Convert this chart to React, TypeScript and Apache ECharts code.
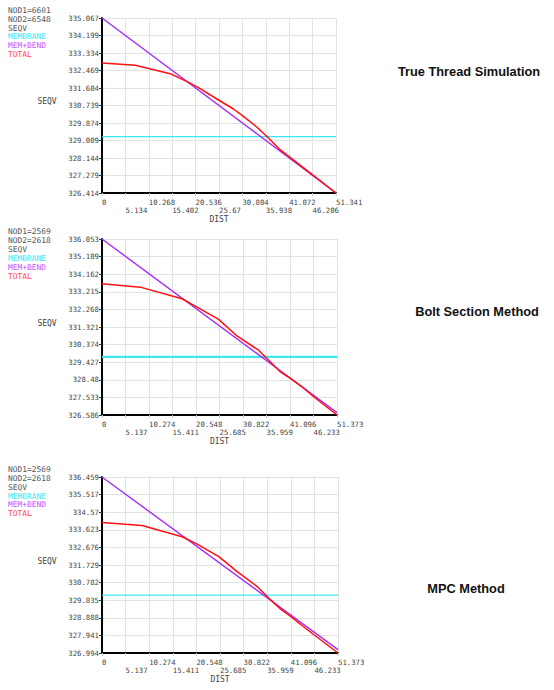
import React, { useEffect, useRef } from "react";
import * as echarts from "echarts";

const MONO = '"DejaVu Sans Mono", "Liberation Mono", monospace';

// ---------- Panel 1: True Thread Simulation ----------
const p1Nodes = ["NOD1=6601", "NOD2=6548"];
const p1XTicks = ["0", "5.134", "10.268", "15.402", "20.536", "25.67", "30.804", "35.938", "41.072", "46.206", "51.341"];
const p1YTicks = ["326.414", "327.279", "328.144", "329.009", "329.874", "330.739", "331.604", "332.469", "333.334", "334.199", "335.067"];
const p1TotalDist = [0, 7.3, 14.97, 18.99, 21.54, 25.2, 28.85, 31.04, 33.96, 36.52, 39.07, 41.26, 43.82, 46.37, 51.341];
const p1TotalSeqv = [332.842, 332.727, 332.315, 331.886, 331.573, 331.062, 330.567, 330.205, 329.677, 329.133, 328.557, 328.178, 327.733, 327.287, 326.414];
const p1Membrane = 329.199;
const p1MemBend = [335.067, 326.414];

// ---------- Panel 2: Bolt Section Method ----------
const p2Nodes = ["NOD1=2569", "NOD2=2618"];
const p2XTicks = ["0", "5.137", "10.274", "15.411", "20.548", "25.685", "30.822", "35.959", "41.096", "46.233", "51.373"];
const p2YTicks = ["326.586", "327.533", "328.48", "329.427", "330.374", "331.321", "332.268", "333.215", "334.162", "335.109", "336.053"];
const p2TotalDist = [0, 8.38, 17.49, 20.77, 25.5, 29.51, 34.25, 36.43, 38.98, 41.17, 43.72, 46.27, 51.373];
const p2TotalSeqv = [333.642, 333.463, 332.838, 332.391, 331.73, 330.837, 330.069, 329.533, 328.908, 328.551, 328.104, 327.569, 326.586];
const p2Membrane = 329.712;
const p2MemBend = [336.053, 326.711];

// ---------- Panel 3: MPC Method ----------
const p3Nodes = ["NOD1=2569", "NOD2=2618"];
const p3XTicks = ["0", "5.137", "10.274", "15.411", "20.548", "25.685", "30.822", "35.959", "41.096", "46.233", "51.373"];
const p3YTicks = ["326.994", "327.941", "328.888", "329.835", "330.782", "331.729", "332.676", "333.623", "334.57", "335.517", "336.459"];
const p3TotalDist = [0, 8.72, 17.44, 20.71, 25.43, 29.43, 33.79, 36.33, 38.88, 41.06, 43.6, 46.14, 51.373];
const p3TotalSeqv = [334.012, 333.852, 333.245, 332.852, 332.173, 331.369, 330.566, 329.941, 329.351, 328.959, 328.459, 327.976, 326.994];
const p3Membrane = 330.102;
const p3MemBend = [336.459, 327.173];

const titles = ["True Thread Simulation", "Bolt Section Method", "MPC Method"];
const legendNames = ["SEQV", "MEMBRANE", "MEM+BEND", "TOTAL"];

const panels = [
  {
    nodes: p1Nodes, xTicks: p1XTicks, yTicks: p1YTicks, dist: p1TotalDist, seqv: p1TotalSeqv,
    membrane: p1Membrane, memBend: p1MemBend,
    grid: { left: 102, top: 18, width: 234, height: 175 },
    legendTop: 10.7, legendStep: 8.67, seqvY: 101, membraneWidth: 1.2,
    title: { x: 469, y: 71 },
  },
  {
    nodes: p2Nodes, xTicks: p2XTicks, yTicks: p2YTicks, dist: p2TotalDist, seqv: p2TotalSeqv,
    membrane: p2Membrane, memBend: p2MemBend,
    grid: { left: 102, top: 239, width: 235, height: 176 },
    legendTop: 231.7, legendStep: 9, seqvY: 323, membraneWidth: 2.2,
    title: { x: 477, y: 311 },
  },
  {
    nodes: p3Nodes, xTicks: p3XTicks, yTicks: p3YTicks, dist: p3TotalDist, seqv: p3TotalSeqv,
    membrane: p3Membrane, memBend: p3MemBend,
    grid: { left: 102, top: 477, width: 236, height: 176 },
    legendTop: 469.7, legendStep: 8.8, seqvY: 561, membraneWidth: 1.2,
    title: { x: 466, y: 588 },
  },
];

const legendColors = ["#555555", "#555555", "#555555", "#44e4ee", "#c455ff", "#ff4a4a"];

function buildOption() {
  const grid: any[] = [];
  const xAxis: any[] = [];
  const yAxis: any[] = [];
  const series: any[] = [];
  const graphic: any[] = [];

  panels.forEach((p, i) => {
    const xMax = parseFloat(p.xTicks[p.xTicks.length - 1]);
    const xStep = xMax / 10;
    const yMin = parseFloat(p.yTicks[0]);
    const yMax = parseFloat(p.yTicks[p.yTicks.length - 1]);
    const yStep = (yMax - yMin) / 10;

    grid.push({ ...p.grid, containLabel: false });

    const labelBase = {
      show: true,
      align: "left",
      verticalAlign: "top",
      fontFamily: MONO,
      fontSize: 7.3,
      lineHeight: 8,
      color: "#444",
      showMinLabel: true,
      showMaxLabel: true,
      hideOverlap: false,
    };

    // main x axis: line, ticks, grid, even labels (upper row), name
    xAxis.push({
      type: "value",
      gridIndex: i,
      position: "bottom",
      min: 0,
      max: xMax,
      interval: xStep,
      axisLine: { show: true, onZero: false, lineStyle: { color: "#000", width: 2 } },
      axisTick: { show: true, length: 3, lineStyle: { color: "#cccccc" } },
      axisLabel: {
        ...labelBase,
        margin: 5.5,
        formatter: (v: number) => {
          const idx = Math.round(v / xStep);
          return idx % 2 === 0 ? p.xTicks[idx] ?? "" : "";
        },
      },
      splitLine: { show: true, lineStyle: { color: "#e2e2e2", width: 1 } },
      name: "DIST",
      nameLocation: "middle",
      nameGap: 22.5,
      nameTextStyle: { fontFamily: MONO, fontSize: 8, lineHeight: 8, color: "#444" },
    });
    // secondary x axis: odd labels (lower row)
    xAxis.push({
      type: "value",
      gridIndex: i,
      position: "bottom",
      offset: 0,
      min: 0,
      max: xMax,
      interval: xStep,
      axisLine: { show: false },
      axisTick: { show: false },
      splitLine: { show: false },
      axisLabel: {
        ...labelBase,
        margin: 13.5,
        formatter: (v: number) => {
          const idx = Math.round(v / xStep);
          return idx % 2 === 1 ? p.xTicks[idx] ?? "" : "";
        },
      },
    });

    yAxis.push({
      type: "value",
      gridIndex: i,
      min: yMin,
      max: yMax,
      interval: yStep,
      axisLine: { show: true, onZero: false, lineStyle: { color: "#000", width: 2 } },
      axisTick: { show: true, length: 3, lineStyle: { color: "#333" } },
      axisLabel: {
        show: true,
        margin: 3,
        fontFamily: MONO,
        fontSize: 7.3,
        color: "#444",
        showMinLabel: true,
        showMaxLabel: true,
        hideOverlap: false,
        formatter: (v: number) => {
          const idx = Math.round((v - yMin) / yStep);
          return p.yTicks[idx] ?? "";
        },
      },
      splitLine: { show: true, lineStyle: { color: "#e2e2e2", width: 1 } },
    });

    const xi = 2 * i;
    series.push({
      type: "line",
      name: "MEMBRANE",
      xAxisIndex: xi,
      yAxisIndex: i,
      data: [[0, p.membrane], [xMax, p.membrane]],
      symbol: "none",
      lineStyle: { color: "#3ee6f0", width: p.membraneWidth },
      z: 3,
    });
    series.push({
      type: "line",
      name: "MEM+BEND",
      xAxisIndex: xi,
      yAxisIndex: i,
      data: [[0, p.memBend[0]], [xMax, p.memBend[1]]],
      symbol: "none",
      lineStyle: { color: "#a62cf5", width: 1.4 },
      z: 4,
    });
    series.push({
      type: "line",
      name: "TOTAL",
      xAxisIndex: xi,
      yAxisIndex: i,
      data: p.dist.map((d, k) => [d, p.seqv[k]]),
      symbol: "none",
      lineStyle: { color: "#ff1010", width: 1.5 },
      z: 5,
    });

    const legendRows = [...p.nodes, ...legendNames];
    legendRows.forEach((txt, k) => {
      graphic.push({
        type: "text",
        x: 8,
        y: p.legendTop + k * p.legendStep,
        style: {
          text: txt,
          fill: legendColors[k],
          fontFamily: MONO,
          fontSize: 7.9,
          align: "left",
          verticalAlign: "middle",
        },
      });
    });

    graphic.push({
      type: "text",
      x: 47,
      y: p.seqvY,
      style: {
        text: "SEQV",
        fill: "#444",
        fontFamily: MONO,
        fontSize: 8,
        align: "center",
        verticalAlign: "middle",
      },
    });

    graphic.push({
      type: "text",
      x: p.title.x,
      y: p.title.y,
      style: {
        text: titles[i],
        fill: "#111",
        fontFamily: '"Liberation Sans", Arial, sans-serif',
        fontWeight: "bold",
        fontSize: 12.8,
        align: "center",
        verticalAlign: "middle",
      },
    });
  });

  return {
    animation: false,
    backgroundColor: "#ffffff",
    grid,
    xAxis,
    yAxis,
    series,
    graphic,
  };
}

export default function App() {
  const ref = useRef<HTMLDivElement>(null);
  useEffect(() => {
    if (!ref.current) return;
    const chart = echarts.init(ref.current, undefined, { renderer: "svg" });
    chart.setOption(buildOption() as any);
    return () => chart.dispose();
  }, []);
  return (
    <div
      ref={ref}
      style={{ position: "fixed", left: 0, top: 0, width: 554, height: 690, background: "#fff" }}
    />
  );
}
